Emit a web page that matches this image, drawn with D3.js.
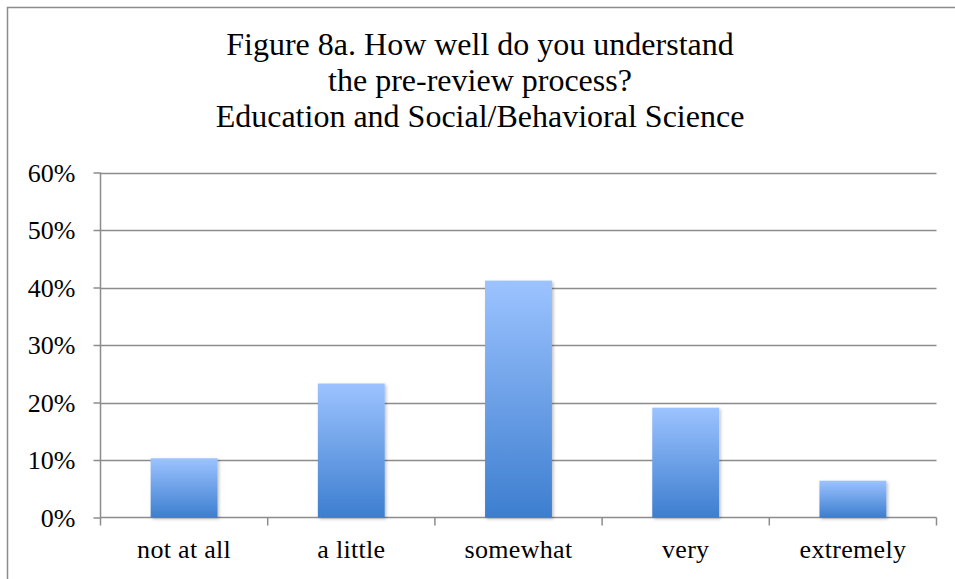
<!DOCTYPE html>
<html>
<head>
<meta charset="utf-8">
<script src="https://cdn.jsdelivr.net/npm/d3@7"></script>
<style>
  html, body { margin: 0; padding: 0; background: #fff; }
  svg { display: block; }
  .serif { font-family: "Liberation Serif", "Times New Roman", serif; }
</style>
</head>
<body>
<svg id="chart" width="955" height="579"></svg>
<script>
// Survey responses: share of respondents per level of understanding
const categories = ["not at all", "a little", "somewhat", "very", "extremely"];
const shares = [0.103, 0.233, 0.412, 0.191, 0.064];
const yTicks = [0, 0.1, 0.2, 0.3, 0.4, 0.5, 0.6];
const titleLines = [
  "Figure 8a. How well do you understand",
  "the pre-review process?",
  "Education and Social/Behavioral Science"
];

const W = 955, H = 579;
const plot = { left: 100.5, right: 936.5, top: 172.5, bottom: 517.5 };
const gridColor = "#8c8c8c";

const svg = d3.select("#chart");

// frame edges
svg.append("path")
  .attr("d", `M7.5,${H} V7.5 H${W}`)
  .attr("fill", "none")
  .attr("stroke", gridColor)
  .attr("stroke-width", 1.5);

// title
const title = svg.append("text")
  .attr("class", "serif")
  .attr("text-anchor", "middle")
  .style("font-size", "32px")
  .attr("fill", "#000");
titleLines.forEach((t, i) => {
  title.append("tspan").attr("x", 480).attr("y", 55 + i * 36.2).text(t);
});

const x = d3.scaleBand().domain(categories).range([plot.left, plot.right]).paddingInner(0.6).paddingOuter(0.3);
const xOuter = d3.scaleBand().domain(categories).range([plot.left, plot.right]);
const y = d3.scaleLinear().domain([0, 0.6]).range([plot.bottom, plot.top]);

const defs = svg.append("defs");
const grad = defs.append("linearGradient").attr("id", "barFill").attr("x1", 0).attr("y1", 0).attr("x2", 0).attr("y2", 1);
grad.append("stop").attr("offset", "0%").attr("stop-color", "#9cc3ff");
grad.append("stop").attr("offset", "100%").attr("stop-color", "#3d7ecf");
const shadow = defs.append("filter").attr("id", "barShadow").attr("x", "-20%").attr("y", "-20%").attr("width", "140%").attr("height", "140%");
shadow.append("feDropShadow").attr("dx", 1.5).attr("dy", 1.5).attr("stdDeviation", 1.5).attr("flood-color", "#000").attr("flood-opacity", 0.25);

// horizontal gridlines
svg.append("g")
  .selectAll("line")
  .data(yTicks.slice(1))
  .join("line")
  .attr("x1", plot.left).attr("x2", plot.right)
  .attr("y1", d => Math.round(y(d)) + 0.5).attr("y2", d => Math.round(y(d)) + 0.5)
  .attr("stroke", gridColor).attr("stroke-width", 1.5);

// y axis
const yAxis = svg.append("g")
  .attr("transform", `translate(${plot.left},0)`)
  .call(d3.axisLeft(y).tickValues(yTicks).tickFormat(d3.format(".0%")).tickSize(7).tickPadding(18));
yAxis.select(".domain").attr("stroke", gridColor).attr("stroke-width", 1.5).attr("d", `M0,${plot.top}V${plot.bottom}`);
yAxis.selectAll(".tick line").attr("stroke", gridColor).attr("stroke-width", 1.5);
yAxis.selectAll(".tick text")
  .attr("class", "serif")
  .style("font-size", "26px").attr("fill", "#000").attr("dy", "0.34em");

// x axis: ticks sit on category boundaries
const xAxis = svg.append("g")
  .attr("transform", `translate(0,${plot.bottom})`)
  .call(d3.axisBottom(xOuter).tickSize(0));
xAxis.select(".domain").remove();
xAxis.append("line").attr("x1", plot.left).attr("x2", plot.right).attr("stroke", gridColor).attr("stroke-width", 1.5);
const bounds = categories.map(c => xOuter(c)).concat([plot.right]);
xAxis.selectAll(".bound")
  .data(bounds)
  .join("line")
  .attr("class", "bound")
  .attr("x1", d => d).attr("x2", d => d)
  .attr("y1", 0).attr("y2", 8)
  .attr("stroke", gridColor).attr("stroke-width", 1.5);
xAxis.selectAll(".tick text")
  .attr("class", "serif")
  .style("font-size", "26px").style("letter-spacing", "0.3px")
  .attr("fill", "#000").attr("y", 40.5).attr("dy", 0);

// bars
svg.append("g")
  .selectAll("rect")
  .data(categories.map((c, i) => ({ c, v: shares[i] })))
  .join("rect")
  .attr("x", d => x(d.c))
  .attr("width", x.bandwidth())
  .attr("y", d => y(d.v))
  .attr("height", d => y(0) - y(d.v))
  .attr("fill", "url(#barFill)")
  .attr("filter", "url(#barShadow)");
</script>
</body>
</html>
